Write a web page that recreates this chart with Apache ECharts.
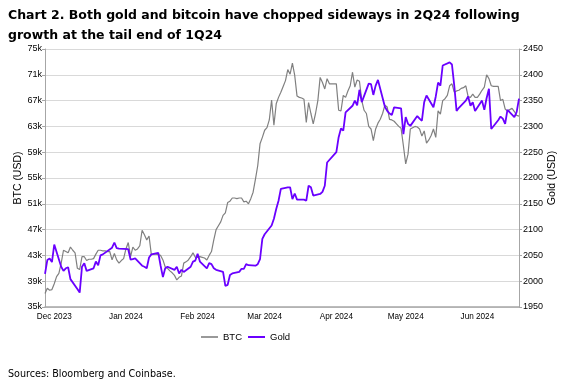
<!DOCTYPE html>
<html><head><meta charset="utf-8">
<script src="https://cdn.jsdelivr.net/npm/echarts@6/dist/echarts.min.js"></script>
<style>html,body{margin:0;padding:0;background:#fff}#c{width:583px;height:392px}</style>
</head><body><div id="c"></div>
<script>
const titleText = 'Chart 2. Both gold and bitcoin have chopped sideways in 2Q24 following\ngrowth at the tail end of 1Q24';
const sourceText = 'Sources: Bloomberg and Coinbase.';
const monthNames = ['Jan','Feb','Mar','Apr','May','Jun','Jul','Aug','Sep','Oct','Nov','Dec'];
const seriesNames = ['BTC', 'Gold'];

// BTC daily closes (thousand USD), one array per month, starting at the given date
const btcNov = [37.1, 37.9, 37.6, 37.7]; // from 2023-11-27
const btcDec = [38.6, 39.7, 40.2, 41.8, 43.8, 43.6, 43.4, 44.3, 43.8, 43.4, 41.0, 40.8, 42.8, 42.8, 42.2, 42.4,
  42.4, 42.5, 43.2, 43.8, 43.8, 43.7, 43.7, 43.6, 43.6, 42.3, 43.3, 42.3, 41.8, 42.2, 42.5];
const btcJan = [44.0, 45.0, 42.8, 44.3, 43.8, 44.0, 44.5, 46.9, 46.2, 45.4, 46.0, 43.1, 43.2, 43.2, 43.1, 43.0,
  42.3, 41.2, 41.0, 40.6, 40.3, 39.9, 39.2, 39.6, 39.8, 41.8, 42.0, 42.3, 42.8, 43.4, 42.7];
const btcFeb = [42.7, 42.8, 42.7, 42.6, 42.3, 43.0, 43.6, 45.4, 47.0, 47.6, 48.2, 49.2, 49.6, 51.2, 51.4, 51.9,
  51.9, 51.8, 51.9, 51.9, 51.3, 51.4, 51.0, 51.8, 52.8, 54.8, 56.9, 60.3, 61.3];
const btcMar = [62.4, 62.8, 64.0, 67.1, 63.2, 66.5, 67.5, 68.3, 69.2, 70.1, 71.8, 71.1, 72.8, 70.9, 67.7, 67.5,
  67.4, 67.2, 63.6, 66.7, 65.0, 63.4, 65.0, 67.0, 70.6, 69.8, 68.8, 70.4, 69.6, 69.6, 69.6];
const btcApr = [69.6, 65.5, 65.4, 67.8, 67.5, 68.5, 69.3, 71.4, 69.1, 70.2, 70.0, 67.0, 65.5, 65.0, 63.0, 62.6,
  60.8, 62.6, 63.5, 64.1, 65.0, 66.3, 66.0, 64.1, 64.0, 63.8, 63.4, 63.0, 62.7, 60.0];
const btcMay = [57.2, 58.7, 62.6, 62.8, 63.0, 62.9, 62.6, 61.5, 62.3, 60.4, 60.9, 61.6, 62.6, 61.3, 65.4, 64.9,
  67.0, 67.3, 67.8, 69.3, 69.6, 68.3, 68.5, 68.6, 68.9, 69.0, 69.3, 67.6, 67.5, 68.0, 67.5];
const btcJun = [67.5, 68.0, 68.6, 69.1, 71.0, 70.4, 69.3, 69.2, 69.2, 69.2, 67.0, 67.2, 65.7, 65.4, 65.6, 65.8,
  65.3, 64.7, 64.6];
const btcMonths = [[2023, 10, 27, btcNov], [2023, 11, 1, btcDec], [2024, 0, 1, btcJan], [2024, 1, 1, btcFeb],
  [2024, 2, 1, btcMar], [2024, 3, 1, btcApr], [2024, 4, 1, btcMay], [2024, 5, 1, btcJun]];

// Gold (USD/oz), business days
const goldDates = [
  '2023-11-27','2023-11-28','2023-11-29','2023-11-30','2023-12-01',
  '2023-12-04','2023-12-05','2023-12-06','2023-12-07','2023-12-08',
  '2023-12-11','2023-12-12','2023-12-13','2023-12-14','2023-12-15',
  '2023-12-18','2023-12-19','2023-12-20','2023-12-21','2023-12-22',
  '2023-12-26','2023-12-27','2023-12-28','2023-12-29',
  '2024-01-02','2024-01-03','2024-01-04','2024-01-05',
  '2024-01-08','2024-01-09','2024-01-10','2024-01-11','2024-01-12',
  '2024-01-15','2024-01-16','2024-01-17','2024-01-18','2024-01-19',
  '2024-01-22','2024-01-23','2024-01-24','2024-01-25','2024-01-26',
  '2024-01-29','2024-01-30','2024-01-31','2024-02-01','2024-02-02',
  '2024-02-05','2024-02-06','2024-02-07','2024-02-08','2024-02-09',
  '2024-02-12','2024-02-13','2024-02-14','2024-02-15','2024-02-16',
  '2024-02-19','2024-02-20','2024-02-21','2024-02-22','2024-02-23',
  '2024-02-26','2024-02-27','2024-02-28','2024-02-29','2024-03-01',
  '2024-03-04','2024-03-05','2024-03-06','2024-03-07','2024-03-08',
  '2024-03-11','2024-03-12','2024-03-13','2024-03-14','2024-03-15',
  '2024-03-18','2024-03-19','2024-03-20','2024-03-21','2024-03-22',
  '2024-03-25','2024-03-26','2024-03-27','2024-03-28',
  '2024-04-01','2024-04-02','2024-04-03','2024-04-04','2024-04-05',
  '2024-04-08','2024-04-09','2024-04-10','2024-04-11','2024-04-12',
  '2024-04-15','2024-04-16','2024-04-17','2024-04-18','2024-04-19',
  '2024-04-22','2024-04-23','2024-04-24','2024-04-25','2024-04-26',
  '2024-04-29','2024-04-30','2024-05-01','2024-05-02','2024-05-03',
  '2024-05-06','2024-05-07','2024-05-08','2024-05-09','2024-05-10',
  '2024-05-13','2024-05-14','2024-05-15','2024-05-16','2024-05-17',
  '2024-05-20','2024-05-21','2024-05-22','2024-05-23','2024-05-24',
  '2024-05-27','2024-05-28','2024-05-29','2024-05-30','2024-05-31',
  '2024-06-03','2024-06-04','2024-06-05','2024-06-06','2024-06-07',
  '2024-06-10','2024-06-11','2024-06-12','2024-06-13','2024-06-14',
  '2024-06-17','2024-06-18','2024-06-19'];
const goldValues = [
  2014, 2041, 2044, 2037, 2071,
  2028, 2020, 2025, 2027, 2004,
  1985, 1978, 2028, 2035, 2020,
  2025, 2038, 2031, 2050, 2052,
  2065, 2075, 2064, 2063,
  2062, 2042, 2043, 2044,
  2030, 2028, 2025, 2046, 2052,
  2055, 2030, 2008, 2025, 2028,
  2022, 2028, 2015, 2022, 2018,
  2028, 2038, 2040, 2053, 2038,
  2025, 2035, 2033, 2025, 2022,
  2018, 1991, 1993, 2012, 2015,
  2018, 2024, 2024, 2033, 2031,
  2030, 2033, 2043, 2082, 2091,
  2108, 2121, 2140, 2156, 2179,
  2182, 2182, 2159, 2170, 2158,
  2158, 2156, 2185, 2182, 2166,
  2169, 2173, 2185, 2230,
  2250, 2279, 2296, 2292, 2327,
  2340, 2350, 2341, 2371, 2347,
  2383, 2382, 2361, 2379, 2390,
  2338, 2330, 2325, 2322, 2337,
  2335, 2285, 2318, 2305, 2301,
  2320, 2315, 2311, 2347, 2360,
  2337, 2358, 2385, 2379, 2418,
  2424, 2420, 2379, 2330, 2336,
  2350, 2358, 2340, 2347, 2330,
  2350, 2332, 2355, 2373, 2295,
  2312, 2319, 2315, 2305, 2332,
  2318, 2328, 2354];

const xMin = '2023-11-27', xMax = '2024-06-19';

const btcData = [];
btcMonths.forEach(([y, m, d0, arr]) => {
  arr.forEach((v, i) => btcData.push([new Date(y, m, d0 + i), v]));
});
const goldData = goldDates.map((d, i) => [d, goldValues[i]]);

const labelFont = '"Liberation Sans", Arial, sans-serif';
const axisGray = '#a6a6a6';
const chart = echarts.init(document.getElementById('c'), null, {renderer: 'canvas'});
chart.setOption({
  animation: false,
  backgroundColor: '#fff',
  title: [{
    text: titleText, left: 8, top: 6, padding: 0,
    textStyle: {fontFamily: 'DejaVu Sans', fontSize: 12.5, fontWeight: 'bold', color: '#000', lineHeight: 20}
  }, {
    text: sourceText, left: 8, top: 369, padding: 0,
    textStyle: {fontFamily: 'DejaVu Sans', fontSize: 9.6, fontWeight: 'normal', color: '#000'}
  }],
  legend: {
    data: seriesNames, left: 201, top: 332, padding: 0, icon: 'rect', itemWidth: 17, itemHeight: 2, itemGap: 6,
    textStyle: {fontFamily: labelFont, fontSize: 9.5, color: '#000'}
  },
  grid: {left: 45, right: 64, top: 49, bottom: 85},
  xAxis: {
    type: 'time', min: xMin, max: xMax,
    minInterval: 28 * 864e5, maxInterval: 31 * 864e5,
    axisLine: {show: true, lineStyle: {color: axisGray, width: 1.5}},
    axisTick: {show: false},
    splitLine: {show: false},
    axisLabel: {
      fontFamily: labelFont, fontSize: 8.2, color: '#000', margin: 6, hideOverlap: false,
      formatter: function (v) {
        const d = new Date(v);
        if (d.getDate() !== 1) return '';
        return monthNames[d.getMonth()] + ' ' + d.getFullYear();
      }
    }
  },
  yAxis: [{
    type: 'value', min: 35, max: 75, interval: 4, position: 'left',
    name: 'BTC (USD)', nameLocation: 'middle', nameGap: 21, nameRotate: 90, nameMoveOverlap: false,
    nameTextStyle: {fontFamily: labelFont, fontSize: 10.5, color: '#000'},
    axisLine: {show: true, lineStyle: {color: axisGray}},
    axisTick: {show: true, length: 3, lineStyle: {color: axisGray}},
    axisLabel: {formatter: '{value}k', fontFamily: labelFont, fontSize: 9, color: '#000', margin: 3},
    splitLine: {show: true, lineStyle: {color: '#d9d9d9', width: 1}}
  }, {
    type: 'value', min: 1950, max: 2450, interval: 50, position: 'right',
    name: 'Gold (USD)', nameLocation: 'middle', nameGap: 28, nameRotate: 90, nameMoveOverlap: false,
    nameTextStyle: {fontFamily: labelFont, fontSize: 10.5, color: '#000'},
    axisLine: {show: true, lineStyle: {color: axisGray}},
    axisTick: {show: true, length: 3, lineStyle: {color: axisGray}},
    axisLabel: {fontFamily: labelFont, fontSize: 9, color: '#000', margin: 4,
      formatter: function (v) { return String(v); }},
    splitLine: {show: false}
  }],
  series: [{
    name: seriesNames[0], type: 'line', yAxisIndex: 0, data: btcData, symbol: 'none',
    lineStyle: {color: '#808080', width: 1.2}, itemStyle: {color: '#999999'}
  }, {
    name: seriesNames[1], type: 'line', yAxisIndex: 1, data: goldData, symbol: 'none',
    lineStyle: {color: '#6a00ff', width: 1.8}, itemStyle: {color: '#6a00ff'}
  }]
});
</script>
</body></html>
